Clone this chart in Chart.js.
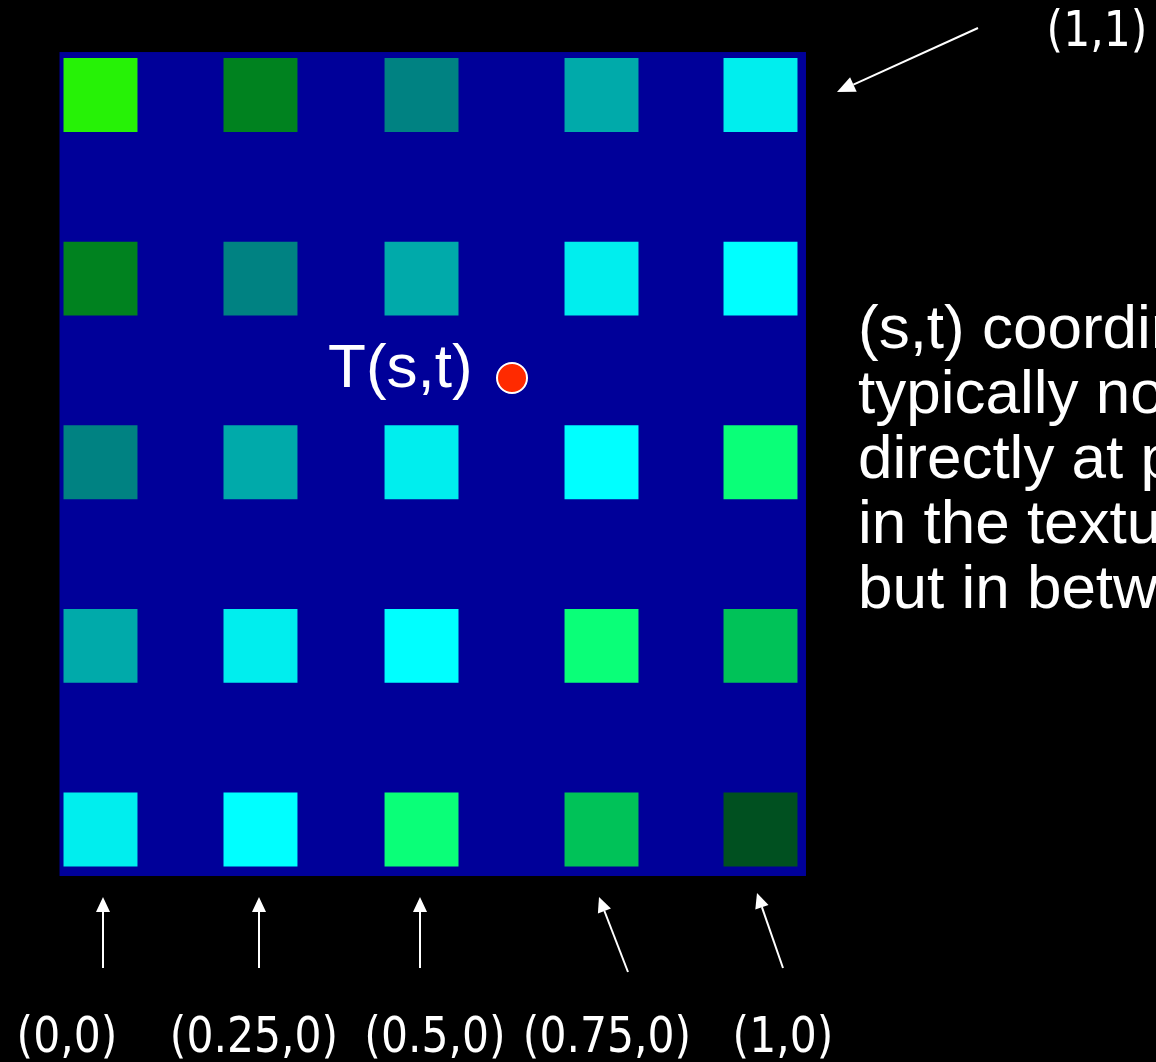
<!DOCTYPE html>
<html><head><meta charset="utf-8">
<script src="https://cdn.jsdelivr.net/npm/chart.js@4.4.1/dist/chart.umd.min.js"></script>
<style>
html,body{margin:0;padding:0;background:#000;overflow:hidden}
#wrap{position:relative;width:1156px;height:1062px}
</style>
</head><body>
<div id="wrap"><canvas id="c"></canvas></div>
<script>
// ---- data ----
const texelS = [0, 0.2424, 0.4864, 0.7591, 1];      // texel column centres (s)
const texelT = [1, 0.75, 0.5, 0.25, 0];              // texel row centres (t), top to bottom
const rowT100 = ['#26F206', '#00821F', '#008282', '#00AAAA', '#00EEEE'];
const rowT075 = ['#00821F', '#008282', '#00AAAA', '#00EEEE', '#00FFFF'];
const rowT050 = ['#008282', '#00AAAA', '#00EEEE', '#00FFFF', '#0AFF78'];
const rowT025 = ['#00AAAA', '#00EEEE', '#00FFFF', '#0AFF78', '#00C258'];
const rowT000 = ['#00EEEE', '#00FFFF', '#0AFF78', '#00C258', '#005020'];
const texelColors = [rowT100, rowT075, rowT050, rowT025, rowT000];
const sampleS = [0.6235];
const sampleT = [0.6147];
const sampleLabel = 'T(s,t)';
const cornerLabels = ['(0,0)', '(0.25,0)', '(0.5,0)', '(0.75,0)', '(1,0)'];
const topLabel = '(1,1)';
const noteLines = ['(s,t) coordinates are', 'typically not', 'directly at pixels', 'in the texture,', 'but in between'];
const textureS = [-0.0621, 1.0689];   // texture extent in s
const textureT = [-0.0633, 1.0585];   // texture extent in t

// ---- layout / style ----
const X_RANGE = [-0.15227, 1.59924];
const Y_RANGE = [-0.31654, 1.12934];
const BLUE = '#000099';
const LABEL_X = [67, 254, 435, 607, 783];
const LABEL_BASE = 1052;
const ARROWS = [
  [103, 968, 103, 897], [259, 968, 259, 897], [420, 968, 420, 897],
  [628, 972, 599, 897], [783, 968, 757, 893], [978, 28, 837, 92]
];
const SANS = '62px "Liberation Sans", Arial, sans-serif';

const points = [], colors = [];
texelT.forEach((t, i) => texelS.forEach((s, j) => {
  points.push({x: s, y: t});
  colors.push(texelColors[i][j]);
}));

const bgPlugin = {
  id: 'bg',
  beforeDraw(chart) {
    const {ctx, scales: {x, y}} = chart;
    ctx.save();
    ctx.fillStyle = '#000';
    ctx.fillRect(0, 0, chart.width, chart.height);
    const x0 = x.getPixelForValue(textureS[0]), x1 = x.getPixelForValue(textureS[1]);
    const y0 = y.getPixelForValue(textureT[1]), y1 = y.getPixelForValue(textureT[0]);
    ctx.fillStyle = BLUE;
    ctx.fillRect(x0, y0, x1 - x0, y1 - y0);
    ctx.restore();
  }
};

function arrow(ctx, x0, y0, x1, y1, len, half) {
  const a = Math.atan2(y1 - y0, x1 - x0);
  const bx = x1 - len * Math.cos(a), by = y1 - len * Math.sin(a);
  ctx.beginPath();
  ctx.moveTo(x0, y0); ctx.lineTo(bx, by); ctx.stroke();
  ctx.beginPath();
  ctx.moveTo(x1, y1);
  ctx.lineTo(bx + half * Math.sin(a), by - half * Math.cos(a));
  ctx.lineTo(bx - half * Math.sin(a), by + half * Math.cos(a));
  ctx.closePath(); ctx.fill();
}

const annoPlugin = {
  id: 'anno',
  afterDraw(chart) {
    const {ctx, scales: {x, y}} = chart;
    ctx.save();
    ctx.fillStyle = '#fff';
    ctx.strokeStyle = '#fff';
    ctx.lineWidth = 2;
    // sample label
    ctx.font = SANS;
    ctx.textAlign = 'left';
    ctx.textBaseline = 'alphabetic';
    ctx.fillText(sampleLabel, x.getPixelForValue(sampleS[0]) - 184, y.getPixelForValue(sampleT[0]) + 9);
    // note text
    noteLines.forEach((l, i) => ctx.fillText(l, 858, 348 + i * 65));
    // coordinate labels
    ctx.font = '50px "DejaVu Sans", Verdana, sans-serif';
    ctx.textAlign = 'center';
    const lbl = (txt, cx, base) => {
      ctx.save(); ctx.translate(cx, base); ctx.scale(0.85, 1); ctx.fillText(txt, 0, 0); ctx.restore();
    };
    cornerLabels.forEach((l, i) => lbl(l, LABEL_X[i], LABEL_BASE));
    lbl(topLabel, 1097, 46);
    // arrows
    ARROWS.forEach((a, i) => arrow(ctx, a[0], a[1], a[2], a[3], i === 5 ? 18 : 15, i === 5 ? 8 : 7));
    ctx.restore();
  }
};

new Chart(document.getElementById('c'), {
  type: 'scatter',
  data: {
    datasets: [
      {
        label: 'sample', data: sampleS.map((s, i) => ({x: s, y: sampleT[i]})),
        pointStyle: 'circle', pointRadius: 15, backgroundColor: '#FF2A00',
        borderColor: '#ffffff', borderWidth: 2, order: 0
      },
      {
        label: 'texels', data: points, pointStyle: 'rect', pointRadius: 52.3,
        backgroundColor: colors, borderWidth: 0, order: 1
      }
    ]
  },
  options: {
    responsive: true, maintainAspectRatio: false, animation: false, events: [],
    layout: {padding: 0, autoPadding: false},
    plugins: {legend: {display: false}, tooltip: {enabled: false}},
    scales: {
      x: {type: 'linear', display: false, min: X_RANGE[0], max: X_RANGE[1]},
      y: {type: 'linear', display: false, min: Y_RANGE[0], max: Y_RANGE[1]}
    }
  },
  plugins: [bgPlugin, annoPlugin]
});
</script>
</body></html>
